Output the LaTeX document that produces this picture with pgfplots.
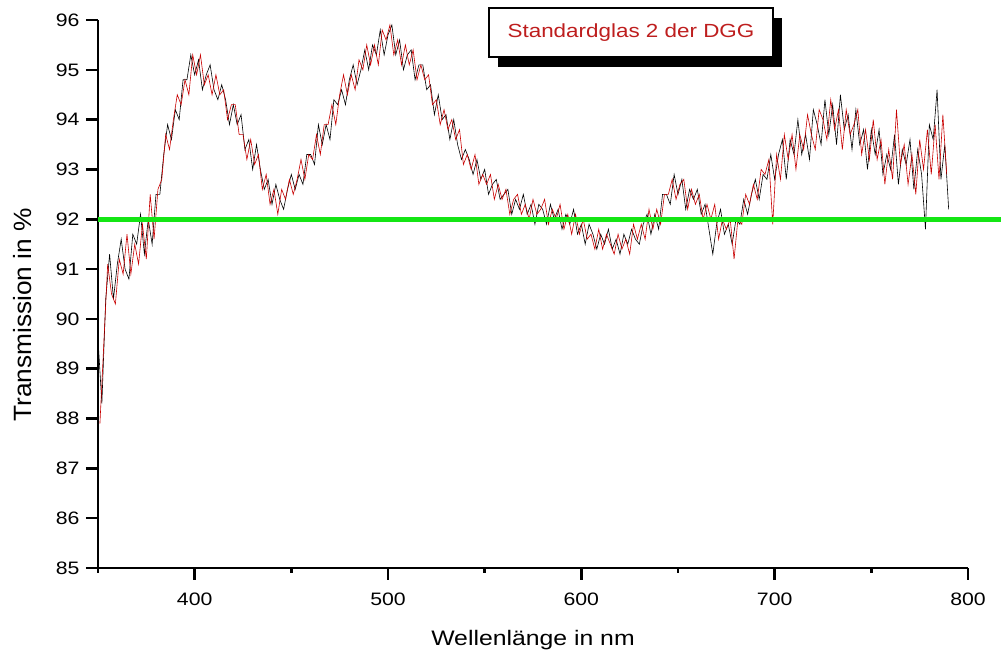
\documentclass[border=0pt]{standalone}
\usepackage{pgfplots}
\pgfplotsset{compat=1.18}
\usepackage{fontspec}
\setmainfont{Liberation Sans}[FakeStretch=1.18]
\newfontfamily\ylabfont{Liberation Sans}[FakeStretch=1.05]

\definecolor{specred}{RGB}{200,0,0}
\definecolor{legred}{RGB}{190,30,30}
\definecolor{refgreen}{RGB}{20,230,20}

\begin{document}
\begin{tikzpicture}
% page size 1001 x 653 px, axis box lower left at (98,568)
\useasboundingbox (-98bp,-85bp) rectangle (903bp,568bp);
\begin{axis}[
    at={(0,0)}, anchor=south west,
    scale only axis,
    width=870bp, height=548bp,
    xmin=350, xmax=800,
    ymin=85, ymax=96,
    axis x line*=bottom,
    axis y line*=left,
    every outer x axis line/.append style={line width=2.7bp},
    every outer y axis line/.append style={line width=2.7bp},
    x axis line style={line width=2.7bp},
    y axis line style={line width=2.7bp},
    every tick/.style={black, line width=2.5bp},
    tick align=outside,
    major tick length=12bp,
    minor tick length=5bp,
    xtick={400,500,600,700,800},
    minor xtick={350,450,550,650,750},
    ytick={85,86,87,88,89,90,91,92,93,94,95,96},
    /pgf/number format/assume math mode=true,
    ticklabel style={font=\fontsize{18bp}{20bp}\selectfont},
    xticklabel style={yshift=-9bp},
    yticklabel style={xshift=-3bp},
    xlabel={Wellenlänge in nm},
    ylabel={Transmission in \%},
    xlabel style={font=\fontsize{21bp}{24bp}\selectfont, at={(axis description cs:0.5,-0.131)}, anchor=center},
    ylabel style={font=\ylabfont\fontsize{25bp}{28bp}\selectfont, at={(axis description cs:-0.087,0.462)}, anchor=center, rotate=0},
    clip=false,
  ]
  % black series
  \addplot[black, line width=0.6bp] coordinates {
    (350,89.6) (352,88.3) (354,90.4) (356,91.3) (358,90.4) (360,91.1) (362,91.6) (364,91.0) (366,90.8) (368,91.7)
    (370,91.5) (372,92.1) (374,91.3) (376,92.0) (378,91.5) (380,92.5) (382,92.5) (384,93.3) (386,93.9) (388,93.6)
    (390,94.2) (392,94.0) (394,94.8) (396,94.8) (398,95.3) (400,94.9) (402,95.2) (404,94.6) (406,94.9) (408,95.1)
    (410,94.6) (412,94.4) (414,94.7) (416,94.4) (418,93.9) (420,94.3) (422,93.9) (424,94.1) (426,93.4) (428,93.6)
    (430,93.0) (432,93.5) (434,93.0) (436,92.6) (438,92.8) (440,92.3) (442,92.7) (444,92.4) (446,92.2) (448,92.6)
    (450,92.9) (452,92.6) (454,92.9) (456,92.7) (458,93.3) (460,93.3) (462,93.1) (464,93.9) (466,93.5) (468,93.9)
    (470,93.6) (472,94.4) (474,94.3) (476,94.6) (478,94.3) (480,94.8) (482,95.1) (484,94.7) (486,95.0) (488,95.4)
    (490,95.0) (492,95.5) (494,95.3) (496,95.8) (498,95.3) (500,95.7) (502,95.9) (504,95.3) (506,95.6) (508,95.0)
    (510,95.3) (512,95.4) (514,94.8) (516,95.1) (518,95.1) (520,94.6) (522,94.7) (524,94.1) (526,94.5) (528,94.0)
    (530,94.1) (532,93.6) (534,94.0) (536,93.5) (538,93.2) (540,93.4) (542,93.2) (544,92.9) (546,93.2) (548,92.8)
    (550,93.0) (552,92.5) (554,92.7) (556,92.8) (558,92.4) (560,92.5) (562,92.6) (564,92.1) (566,92.4) (568,92.2)
    (570,92.5) (572,92.1) (574,92.3) (576,91.9) (578,92.3) (580,92.2) (582,91.9) (584,92.3) (586,92.0) (588,92.2)
    (590,91.8) (592,92.1) (594,91.9) (596,92.2) (598,91.7) (600,91.9) (602,91.5) (604,91.9) (606,91.7) (608,91.4)
    (610,91.7) (612,91.5) (614,91.8) (616,91.4) (618,91.6) (620,91.3) (622,91.7) (624,91.5) (626,91.8) (628,91.6)
    (630,91.5) (632,91.9) (634,92.1) (636,91.7) (638,92.1) (640,91.8) (642,92.5) (644,92.5) (646,92.3) (648,92.9)
    (650,92.5) (652,92.8) (654,92.2) (656,92.6) (658,92.4) (660,92.6) (662,92.1) (664,92.3) (666,91.8) (668,91.3)
    (670,91.9) (672,92.2) (674,91.7) (676,91.9) (678,91.5) (680,92.0) (682,91.9) (684,92.4) (686,92.1) (688,92.5)
    (690,92.8) (692,92.4) (694,92.9) (696,92.8) (698,93.3) (700,92.8) (702,93.3) (704,93.6) (706,92.8) (708,93.6)
    (710,93.3) (712,94.0) (714,93.3) (716,93.7) (718,93.2) (720,94.2) (722,93.9) (724,93.5) (726,94.4) (728,93.7)
    (730,94.3) (732,93.5) (734,94.5) (736,93.8) (738,94.1) (740,93.4) (742,94.2) (744,93.5) (746,93.8) (748,93.0)
    (750,93.8) (752,93.3) (754,93.8) (756,92.9) (758,93.3) (760,93.0) (762,93.7) (764,92.7) (766,93.4) (768,93.1)
    (770,93.6) (772,92.6) (774,93.4) (776,92.9) (778,91.8) (780,93.9) (782,93.6) (784,94.6) (786,92.8) (788,93.5)
    (790,92.2)
  };
  % red series
  \addplot[specred, line width=0.6bp] coordinates {
    (351,87.9) (353,89.5) (355,91.1) (357,90.5) (359,90.3) (361,91.2) (363,90.9) (365,91.7) (367,90.9) (369,91.5)
    (371,91.1) (373,91.9) (375,91.2) (377,92.5) (379,91.6) (381,92.6) (383,92.8) (385,93.7) (387,93.4) (389,94.0)
    (391,94.5) (393,94.3) (395,94.8) (397,94.5) (399,95.3) (401,94.9) (403,95.3) (405,94.7) (407,94.9) (409,94.5)
    (411,94.9) (413,94.5) (415,94.6) (417,94.0) (419,94.3) (421,94.3) (423,93.7) (425,93.7) (427,93.2) (429,93.6)
    (431,93.1) (433,93.3) (435,92.6) (437,92.9) (439,92.3) (441,92.6) (443,92.1) (445,92.6) (447,92.4) (449,92.8)
    (451,92.5) (453,92.8) (455,93.2) (457,92.8) (459,93.3) (461,93.2) (463,93.7) (465,93.3) (467,93.9) (469,93.9)
    (471,94.3) (473,93.9) (475,94.5) (477,94.9) (479,94.5) (481,94.9) (483,94.6) (485,95.2) (487,95.0) (489,95.5)
    (491,95.1) (493,95.5) (495,95.1) (497,95.8) (499,95.6) (501,95.9) (503,95.3) (505,95.6) (507,95.1) (509,95.5)
    (511,95.1) (513,95.4) (515,94.8) (517,95.1) (519,94.8) (521,94.9) (523,94.3) (525,94.4) (527,93.9) (529,94.2)
    (531,93.8) (533,94.0) (535,93.6) (537,93.8) (539,93.1) (541,93.3) (543,93.0) (545,93.3) (547,92.7) (549,92.9)
    (551,92.7) (553,92.9) (555,92.4) (557,92.7) (559,92.4) (561,92.6) (563,92.1) (565,92.4) (567,92.5) (569,92.1)
    (571,92.3) (573,92.0) (575,92.4) (577,92.1) (579,92.2) (581,92.4) (583,91.9) (585,92.2) (587,92.0) (589,92.3)
    (591,91.8) (593,92.1) (595,91.7) (597,92.1) (599,91.7) (601,92.0) (603,91.6) (605,91.7) (607,91.4) (609,91.8)
    (611,91.4) (613,91.7) (615,91.5) (617,91.3) (619,91.7) (621,91.4) (623,91.6) (625,91.3) (627,91.9) (629,91.6)
    (631,91.9) (633,91.6) (635,92.2) (637,91.8) (639,92.2) (641,91.9) (643,92.5) (645,92.5) (647,92.8) (649,92.4)
    (651,92.7) (653,92.8) (655,92.2) (657,92.6) (659,92.3) (661,92.5) (663,92.0) (665,92.3) (667,92.0) (669,92.3)
    (671,91.6) (673,92.0) (675,91.8) (677,92.0) (679,91.2) (681,92.0) (683,91.9) (685,92.5) (687,92.3) (689,92.7)
    (691,92.4) (693,93.0) (695,92.9) (697,93.2) (699,91.9) (701,93.3) (703,92.8) (705,93.7) (707,93.2) (709,93.7)
    (711,93.0) (713,93.7) (715,93.4) (717,94.1) (719,93.7) (721,93.4) (723,94.2) (725,94.0) (727,93.6) (729,94.4)
    (731,93.8) (733,94.2) (735,93.4) (737,94.2) (739,93.7) (741,93.9) (743,94.2) (745,93.3) (747,93.8) (749,93.2)
    (751,94.0) (753,93.2) (755,93.6) (757,92.7) (759,93.4) (761,92.8) (763,94.2) (765,93.1) (767,93.5) (769,92.7)
    (771,93.3) (773,92.5) (775,93.6) (777,93.0) (779,93.8) (781,92.9) (783,93.9) (785,92.8) (787,94.1) (789,92.9)
  };
  % reference line at 92 %
  \addplot[refgreen, line width=4.5bp] coordinates {(350,92) (818,92)};
\end{axis}
% legend box with shadow
\fill[black] (400bp,501bp) rectangle (684bp,550bp);
\draw[black, line width=1.2bp, fill=white] (391bp,511bp) rectangle (675bp,560bp);
\node[text=legred, font=\fontsize{19bp}{22bp}\selectfont] at (533bp,535.5bp) {Standardglas 2 der DGG};
\end{tikzpicture}
\end{document}
